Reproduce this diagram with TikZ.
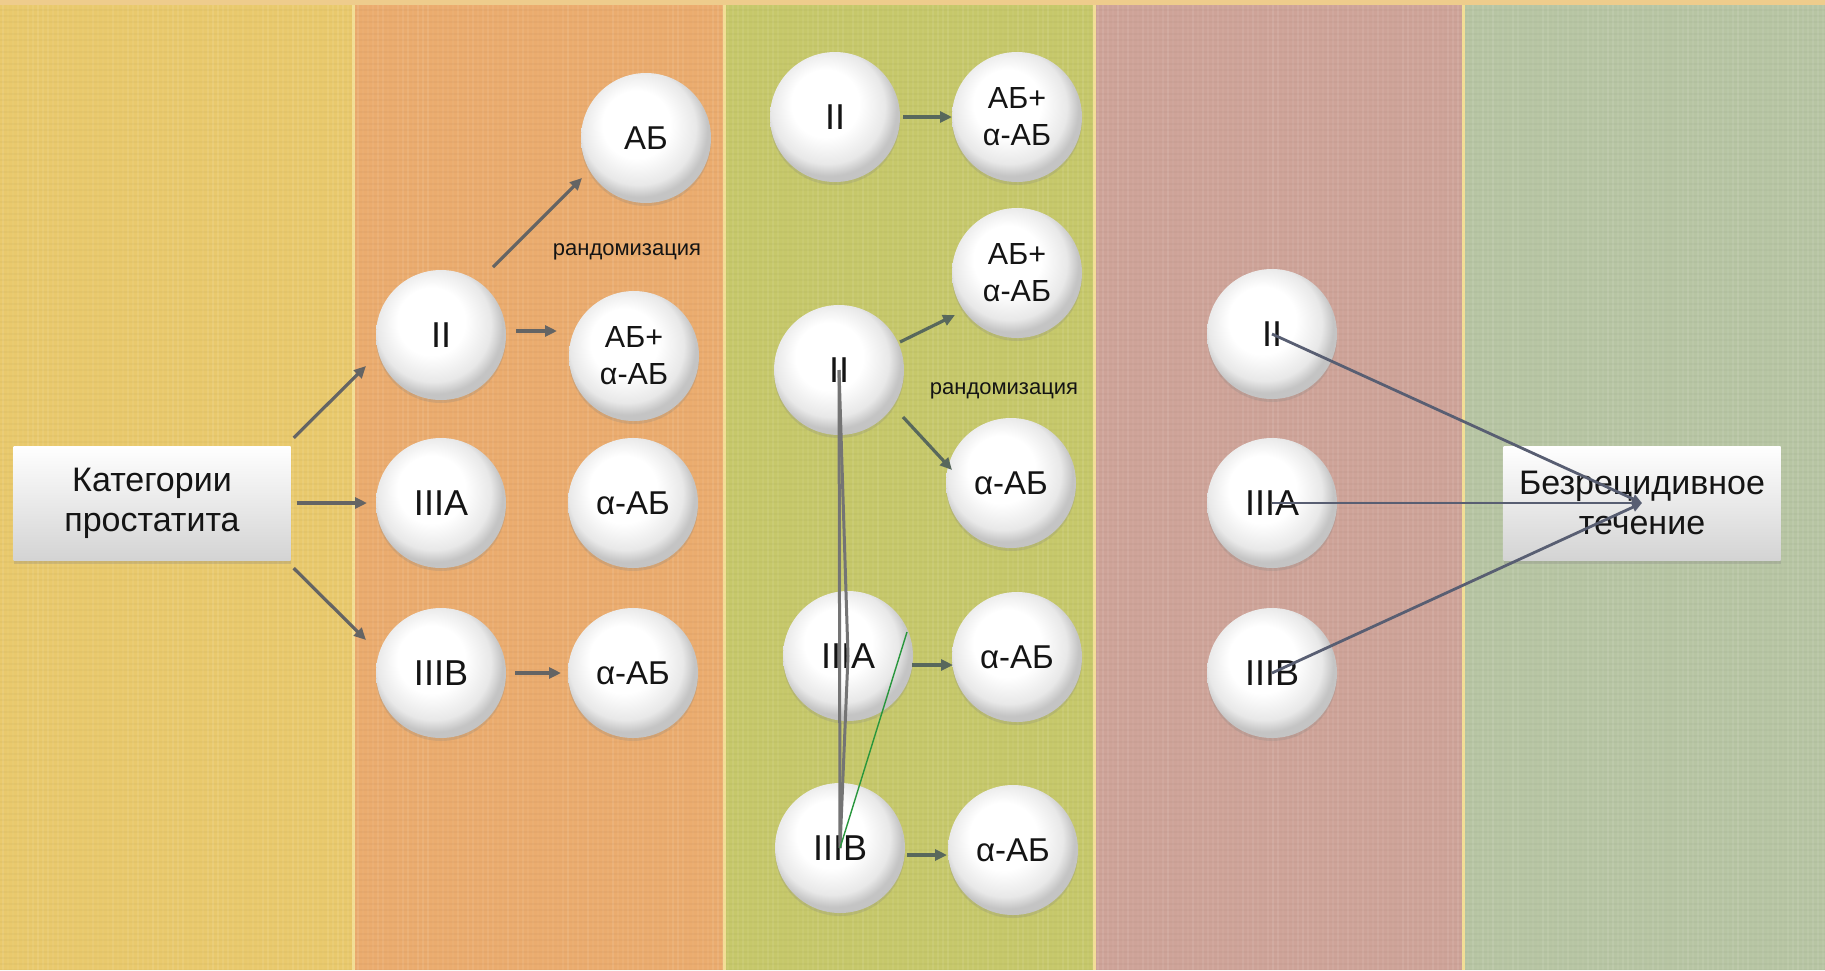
\documentclass[tikz,border=0pt]{standalone}
\usepackage{fontspec}
\setmainfont{Liberation Sans}
\usetikzlibrary{arrows.meta,shadows}

% stripe colours
\definecolor{stripeA}{RGB}{233,201,108}
\definecolor{stripeB}{RGB}{235,172,110}
\definecolor{stripeC}{RGB}{198,200,106}
\definecolor{stripeD}{RGB}{206,163,152}
\definecolor{stripeE}{RGB}{183,197,163}
\definecolor{seam}{RGB}{242,222,150}
\definecolor{topband}{RGB}{238,204,140}
\definecolor{arrowgrey}{RGB}{100,100,100}
\definecolor{arrowgreen}{RGB}{88,104,92}
\definecolor{slate}{RGB}{88,94,114}
\definecolor{thingreen}{RGB}{40,150,60}
\definecolor{ink}{RGB}{20,20,20}

% soft sphere-like fill for the round nodes
\pgfdeclareradialshading{orb}{\pgfpoint{-5bp}{7bp}}{%
  color(0bp)=(white); color(13bp)=(white); color(22bp)=(black!9);
  color(26bp)=(black!23); color(50bp)=(black!23)}

\begin{document}
\begin{tikzpicture}[x=1pt,y=-1pt,
  orbnode/.style={circle, minimum size=130pt, inner sep=0pt, shading=orb,
    drop shadow={shadow xshift=0pt, shadow yshift=-3pt, opacity=0.22},
    text=ink, align=center, font=\fontsize{33}{37}\selectfont},
  roman/.style={orbnode, font=\fontsize{36}{40}\selectfont},
  pairtxt/.style={orbnode, font=\fontsize{30.5}{37}\selectfont},
  slab/.style={rectangle, minimum width=277pt, minimum height=114pt, inner sep=0pt,
    top color=white, bottom color=black!17,
    drop shadow={shadow xshift=0pt, shadow yshift=-4pt, opacity=0.25},
    text=ink, align=center, font=\fontsize{34}{40}\selectfont},
  note/.style={text=ink, inner sep=0pt, font=\fontsize{22}{24}\selectfont},
  arr/.style={draw=arrowgrey, line width=3.2pt, -{Triangle[length=12pt,width=11pt]}},
  arrg/.style={draw=arrowgreen, line width=3.2pt, -{Triangle[length=12pt,width=11pt]}},
  tieline/.style={draw=arrowgrey!90, line width=3pt},
  conv/.style={draw=slate, line width=2.8pt, -{Triangle[length=10pt,width=9pt]}}
]
\useasboundingbox (0,0) rectangle (1825,970);

% background stripes
\fill[stripeA] (0,0) rectangle (353,970);
\fill[stripeB] (353,0) rectangle (724,970);
\fill[stripeC] (724,0) rectangle (1094,970);
\fill[stripeD] (1094,0) rectangle (1463,970);
\fill[stripeE] (1463,0) rectangle (1825,970);

% faint woven texture over the stripes
\pgfmathsetseed{7}
\foreach \tx in {2,7,...,1825}{
  \pgfmathsetmacro\op{0.03+0.07*rnd}
  \fill[white, opacity=\op] (\tx,0) rectangle (\tx+2,970);
}
\foreach \ty in {3,9,...,970}
  \fill[black, opacity=0.025] (0,\ty) rectangle (1825,\ty+1.5);

\foreach \sx in {353,724,1094,1463}
  \fill[seam] (\sx-1.5,0) rectangle (\sx+1.5,970);
\fill[topband] (0,0) rectangle (1825,5);

% first column: categories
\node[slab] (cat) at (152,503) {Категории\\простатита};
\node[roman] (a1) at (441,335) {II};
\node[roman] (a2) at (441,503) {IIIA};
\node[roman] (a3) at (441,673) {IIIB};

% second column: treatment arms
\node[orbnode] (b1) at (646,138) {АБ};
\node[pairtxt] (b2) at (634,356) {АБ+\\α-АБ};
\node[orbnode] (b3) at (633,503) {α-АБ};
\node[orbnode] (b4) at (633,673) {α-АБ};
\node[note] (r1) at (627,252) {рандомизация};

% third column
\node[roman] (c1) at (835,117) {II};
\node[pairtxt] (d1) at (1017,117) {АБ+\\α-АБ};
\node[pairtxt] (d2) at (1017,273) {АБ+\\α-АБ};
\node[roman] (c2) at (839,370) {II};
\node[orbnode] (d3) at (1011,483) {α-АБ};
\node[note] (r2) at (1004,391) {рандомизация};
\node[roman] (c3) at (848,656) {IIIA};
\node[orbnode] (d4) at (1017,657) {α-АБ};
\node[roman] (c4) at (840,848) {IIIB};
\node[orbnode] (d5) at (1013,850) {α-АБ};

% fourth column and outcome
\node[roman] (e1) at (1272,334) {II};
\node[roman] (e2) at (1272,503) {IIIA};
\node[roman] (e3) at (1272,673) {IIIB};
\node[slab] (res) at (1642,503) {Безрецидивное\\течение};

% connectors, first column
\draw[arr] ([shift={(3,-8)}]cat.north east) -- ([shift={(-75,31)}]a1.center);
\draw[arr] ([shift={(6,0)}]cat.east) -- ([shift={(-74,0)}]a2.center);
\draw[arr] ([shift={(3,8)}]cat.south east) -- ([shift={(-75,-33)}]a3.center);
\draw[arr] ([shift={(52,-68)}]a1.center) -- ([shift={(-64,40)}]b1.center);
\draw[arr] ([shift={(75,-4)}]a1.center) -- ([shift={(-77,-25)}]b2.center);
\draw[arr] ([shift={(74,0)}]a3.center) -- ([shift={(-72,0)}]b4.center);

% connectors, third column
\draw[arrg] ([shift={(68,0)}]c1.center) -- ([shift={(-65,0)}]d1.center);
\draw[arrg] ([shift={(61,-28)}]c2.center) -- ([shift={(-62,42)}]d2.center);
\draw[arrg] ([shift={(64,47)}]c2.center) -- ([shift={(-59,-13)}]d3.center);
\draw[arrg] ([shift={(64,9)}]c3.center) -- ([shift={(-64,8)}]d4.center);
\draw[arrg] ([shift={(67,7)}]c4.center) -- ([shift={(-66,5)}]d5.center);

% ties across the third column
\draw[tieline] (c2.center) -- (c4.center);
\draw[tieline] (c2.center) -- (c3.center) -- (c4.center);
\draw[thingreen, line width=1.4pt] ([shift={(59,-24)}]c3.center) -- (c4.center);

% converging arrows to the outcome
\draw[conv] (e1.center) -- (res.center);
\draw[conv] (e2.center) -- (res.center);
\draw[conv] (e3.center) -- (res.center);
\end{tikzpicture}
\end{document}
